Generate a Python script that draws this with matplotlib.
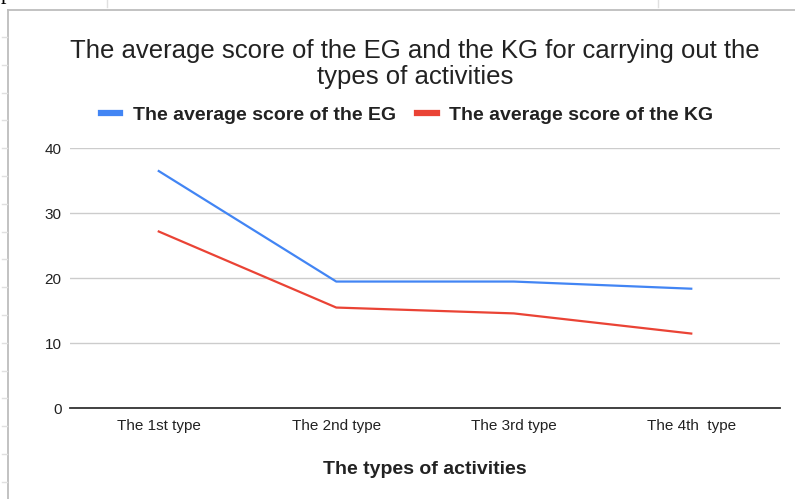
import matplotlib

matplotlib.use("Agg")
import matplotlib.pyplot as plt
import numpy as np

plt.rcParams["font.family"] = ["Liberation Sans", "DejaVu Sans"]

# data
CATEGORIES = ["The 1st type", "The 2nd type", "The 3rd type", "The 4th  type"]
EG_SCORES = [36.5, 19.5, 19.5, 18.4]
KG_SCORES = [27.2, 15.5, 14.6, 11.5]
Y_TICKS = [0, 10, 20, 30, 40]

TITLE = "The average score of the EG and the KG for carrying out the\ntypes of activities"
EG_LABEL = "The average score of the EG"
KG_LABEL = "The average score of the KG"
X_TITLE = "The types of activities"

BLUE = "#4285F4"
RED = "#EA4335"
TEXT = "#222222"
W, H = 795, 499


def px(x, y):
    """pixel coords (top-left origin) -> figure fraction"""
    return x / W, 1 - y / H


fig = plt.figure(figsize=(W / 100, H / 100), dpi=100)
ax = fig.add_axes([70 / W, 1 - 408.3 / H, 710 / W, 260 / H])

x = np.arange(len(CATEGORIES))
ax.plot(x, EG_SCORES, color=BLUE, lw=1.6, label=EG_LABEL, solid_joinstyle="round")
ax.plot(x, KG_SCORES, color=RED, lw=1.6, label=KG_LABEL, solid_joinstyle="round")

ax.set_xlim(-0.5, len(CATEGORIES) - 0.5)
ax.set_ylim(0, 40)
ax.set_yticks(Y_TICKS)
ax.set_xticks(x)
ax.set_xticklabels(CATEGORIES)
ax.tick_params(axis="both", length=0, labelsize=11, labelcolor=TEXT)
ax.tick_params(axis="y", pad=6)
ax.tick_params(axis="x", pad=8)
ax.grid(axis="y", color="#cccccc", lw=1.0)
ax.set_axisbelow(True)
for side in ("top", "right", "left"):
    ax.spines[side].set_visible(False)
ax.spines["bottom"].set_color("#333333")
ax.spines["bottom"].set_linewidth(1.3)
ax.spines["bottom"].set_zorder(3)

ax.set_xlabel(X_TITLE, fontsize=14, fontweight="bold", color=TEXT, labelpad=20)

# baseline of the last title line sits at ~y=84 px
fig.text(*px(415, 84), TITLE, ha="center", va="baseline", fontsize=18.5,
         color=TEXT, linespacing=1.13)

leg = fig.legend(loc="center", bbox_to_anchor=px(407, 115), ncol=2, frameon=False,
                 prop={"size": 14, "weight": "bold"}, handlelength=1.0,
                 handletextpad=0.65, columnspacing=1.1)
for line in leg.get_lines():
    line.set_linewidth(4.5)
for t in leg.get_texts():
    t.set_color(TEXT)

# surrounding sheet border, as in the screenshot
border = "#bdbdbd"
fig.add_artist(plt.Line2D([8 / W, 8 / W], [0, 1 - 10 / H], color=border, lw=1.3))
fig.add_artist(plt.Line2D([8 / W, 1], [1 - 10 / H, 1 - 10 / H], color=border, lw=1.3))
for yy in np.arange(37, H, 27.8):
    fig.add_artist(plt.Line2D([2 / W, 7 / W], [1 - yy / H, 1 - yy / H], color="#e0e0e0", lw=1.0))
for xx in (107, 658):
    fig.add_artist(plt.Line2D([xx / W, xx / W], [1, 1 - 7 / H], color="#e0e0e0", lw=1.0))
fig.text(*px(1, -1), "p", family="Liberation Serif", fontsize=16, color="black",
         va="baseline", ha="left")

fig.savefig("out.png", dpi=100)
